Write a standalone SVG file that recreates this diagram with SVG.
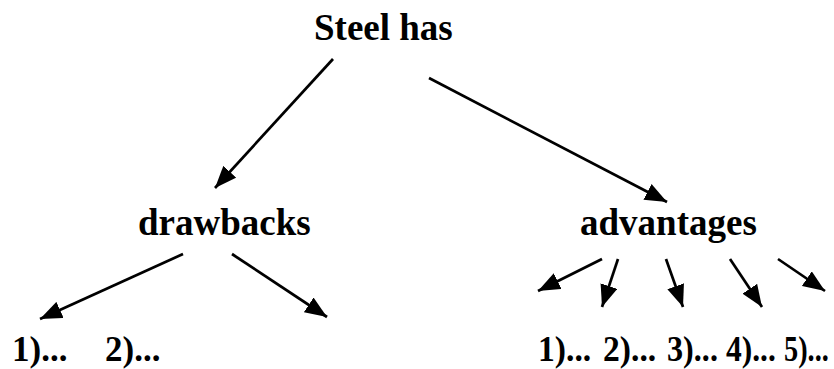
<svg xmlns="http://www.w3.org/2000/svg" width="834" height="369" viewBox="0 0 834 369">
  <style>
    .lbl { font-family: "Liberation Serif", "Times New Roman", serif; font-weight: bold; font-size: 37px; fill: #000; }
    .num { font-family: "Liberation Serif", "Times New Roman", serif; font-weight: bold; font-size: 35px; fill: #000; }
    .edge { stroke: #000; stroke-width: 2.7; fill: none; marker-end: url(#head); }
  </style>
  <defs>
    <marker id="head" viewBox="0 0 10 8" refX="10" refY="4" markerUnits="userSpaceOnUse" markerWidth="22" markerHeight="18" orient="auto">
      <path d="M0,0 L10,4 L0,8 Z" fill="#000"/>
    </marker>
  </defs>
  <rect width="834" height="369" fill="#fff"/>

  <g id="connectors">
    <line class="edge" x1="333" y1="59" x2="215" y2="188"/>
    <line class="edge" x1="429" y1="78" x2="667" y2="202"/>
    <line class="edge" x1="183" y1="254" x2="40" y2="319"/>
    <line class="edge" x1="232" y1="254" x2="327" y2="317"/>
    <line class="edge" x1="602" y1="259" x2="538" y2="291"/>
    <line class="edge" x1="618" y1="259" x2="602" y2="307"/>
    <line class="edge" x1="666" y1="259" x2="683" y2="307"/>
    <line class="edge" x1="730" y1="259" x2="762" y2="307"/>
    <line class="edge" x1="778" y1="259" x2="825" y2="291"/>
  </g>

  <g id="steel-has">
    <text class="lbl" x="314" y="40">Steel has</text>
  </g>
  <g id="drawbacks">
    <text class="lbl" x="138" y="235">drawbacks</text>
  </g>
  <g id="advantages">
    <text class="lbl" x="580" y="235">advantages</text>
  </g>

  <g id="drawbacks-items">
    <text class="num" x="12" y="361">1)...</text>
    <text class="num" x="105" y="361">2)...</text>
  </g>
  <!-- the five advantage items are set slightly condensed -->
  <g id="advantages-items">
    <text class="num" transform="translate(538,361) scale(0.96,1)">1)...</text>
    <text class="num" transform="translate(603,361) scale(0.96,1)">2)...</text>
    <text class="num" transform="translate(667,361) scale(0.92,1)">3)...</text>
    <text class="num" transform="translate(726,361) scale(0.9,1)">4)...</text>
    <text class="num" transform="translate(784,361) scale(0.81,1)">5)...</text>
  </g>
</svg>
